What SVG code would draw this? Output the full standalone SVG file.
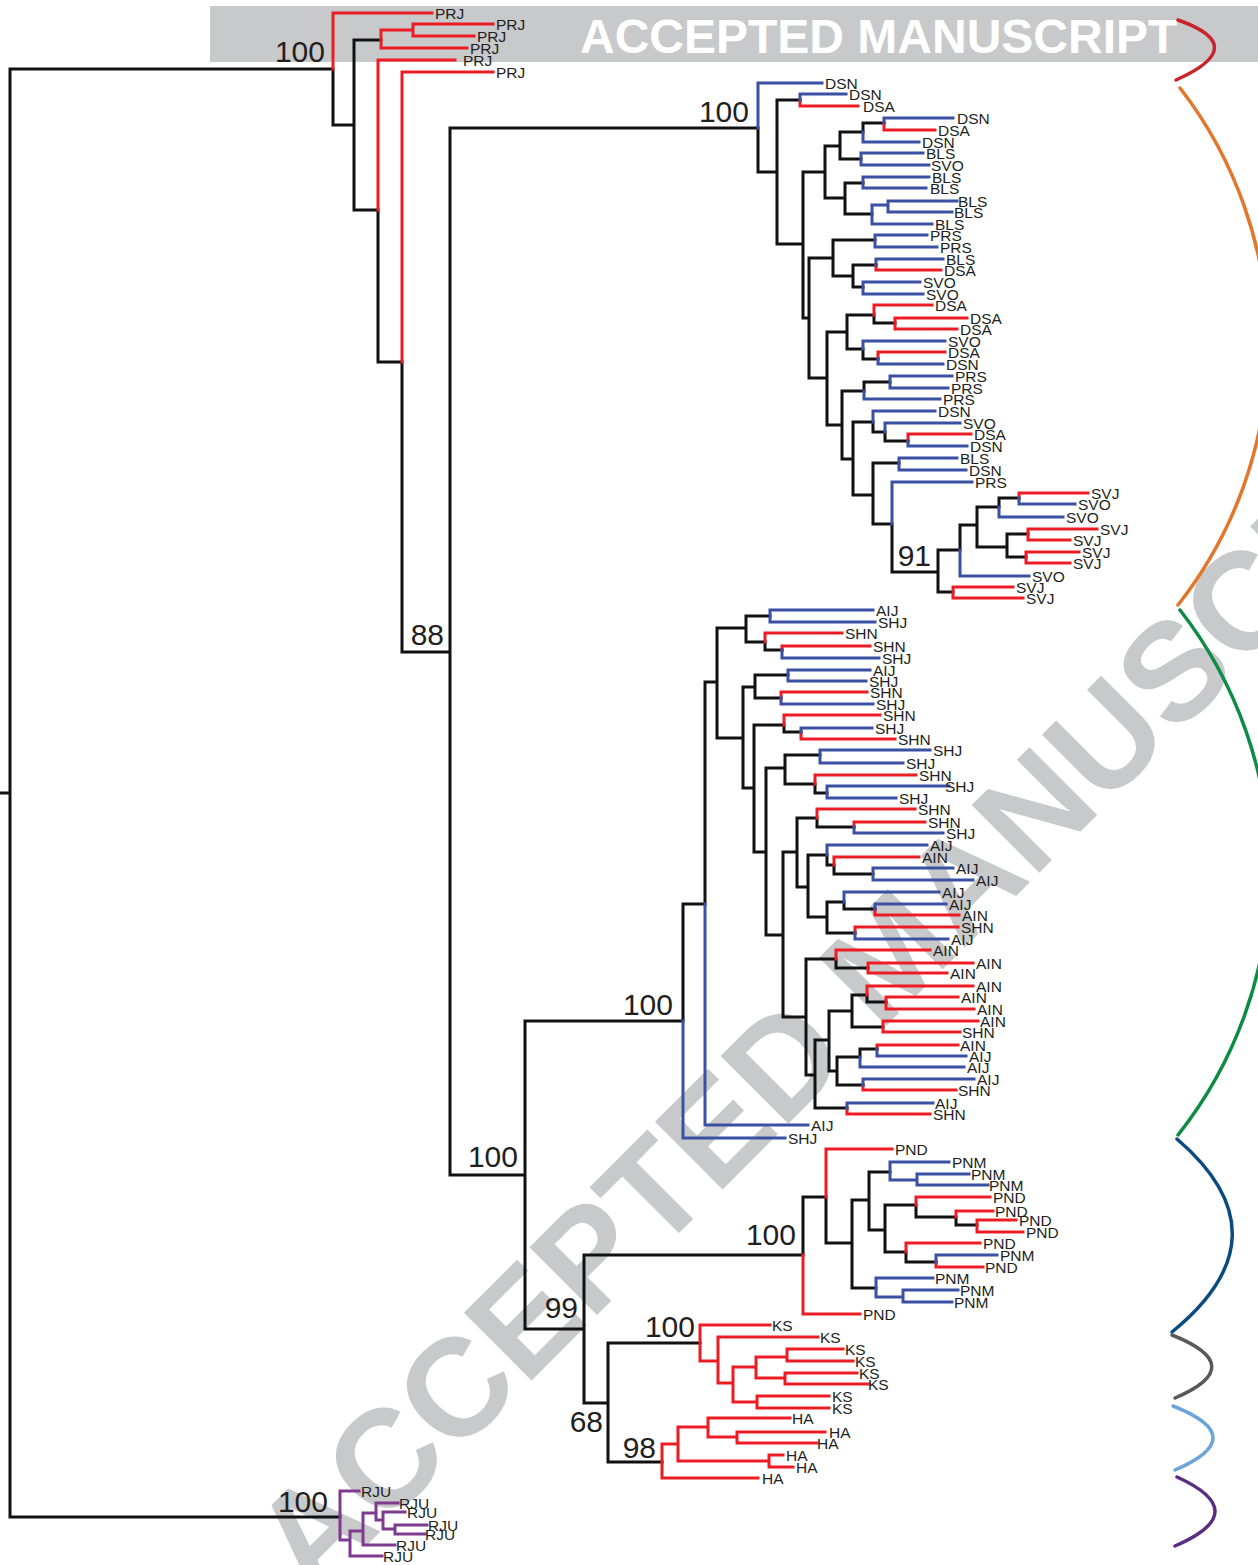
<svg xmlns="http://www.w3.org/2000/svg" width="1258" height="1565" viewBox="0 0 1258 1565">
<style>
.br{fill:none;stroke-width:3;stroke-linecap:square;stroke-linejoin:miter}
.k{stroke:#111}
.r{stroke:#ED1C24}
.b{stroke:#3A51A3}
.p{stroke:#7E3A8E}
.lf{font-family:"Liberation Sans",Arial,sans-serif;font-size:15.5px;fill:#231F20}
.sp{font-family:"Liberation Sans",Arial,sans-serif;font-size:30px;fill:#231F20;text-anchor:end}
.arc{fill:none;stroke-width:3.5;stroke-linecap:round}
.wm{font-family:"Liberation Sans",Arial,sans-serif;font-weight:bold;fill:#C8C9CB}
</style>
<rect width="1258" height="1565" fill="#fff"/>
<g id="watermark">
<rect x="210" y="6" width="1048" height="56" fill="#C8C9CB"/>
<text class="wm" x="580" y="53" font-size="48" style="fill:#fff">ACCEPTED MANUSCRIPT</text>
<text class="wm" font-size="139" transform="translate(312,1600) rotate(-45)">ACCEPTED MANUSCRIPT</text>
</g>
<g id="connectors">
<path class="br k" d="M0 793H10M10 793V69H333M10 793V1517H340M333 69V125H354M354 125V40H381M354 125V210H378M378 210V362H402M402 362V652H450M450 652V128H758M450 652V1175H525M758 128V172H777M777 172V100H800M777 172V244H803M803 244V172H825M803 244V318H809M825 172V146H840M825 172V198H845M840 146V132H863M840 146V159H861M863 132V123H884M845 198V183H863M845 198V214H872M809 318V258H833M809 318V378H827M833 258V240H875M833 258V276H853M853 276V265H876M853 276V287H863M827 378V332H847M827 378V425H842M847 332V315H874M847 332V349H863M874 315V323H895M863 349V359H878M842 425V391H864M842 425V459H853M864 391V382H890M853 459V422H873M853 459V495H873M873 422V432H885M885 432V441H908M873 495V463H899M873 495V524H892M892 524V572H938M938 572V550H960M938 572V592H953M960 550V525H977M977 525V507H999M977 525V547H1007M999 507V498H1019M1007 547V534H1028M1007 547V557H1026M525 1175V1021H683M525 1175V1329H584M683 1021V904H705M705 904V682H717M717 682V628H746M717 682V738H743M746 628V616H770M746 628V642H765M765 642V650H782M743 738V687H755M743 738V788H754M755 687V675H788M755 687V698H781M754 788V725H784M754 788V852H766M784 725V732H801M766 852V768H785M766 852V935H783M785 768V755H820M785 768V784H815M815 784V793H827M783 935V852H797M783 935V1017H806M797 852V818H817M797 852V887H808M817 818V827H854M808 887V855H827M808 887V917H827M827 855V865H834M834 865V874H873M827 917V902H844M827 917V933H855M844 902V909H875M806 1017V959H836M806 1017V1075H815M836 959V968H868M815 1075V1040H829M815 1075V1108H847M829 1040V1011H852M829 1040V1071H837M852 1011V995H867M852 1011V1027H883M867 995V1002H886M837 1071V1057H860M837 1071V1085H863M860 1057V1049H877M584 1329V1255H803M584 1329V1403H608M803 1255V1197H826M826 1197V1243H852M852 1243V1200H869M852 1243V1288H876M869 1200V1172H890M869 1200V1230H885M885 1230V1205H916M885 1230V1252H906M916 1205V1217H956M956 1217V1225H977M906 1252V1262H936M608 1403V1343H700M608 1403V1462H662"/>
<path class="br r" d="M333 69V13H432M381 40V30H413M381 40V48H467M413 30V24H493M413 30V36H474M378 210V60H455M402 362V72H493M800 100V106H858M884 123V130H935M876 265V270H941M874 315V305H932M895 323V318H967M895 323V329H957M878 359V352H945M908 441V434H971M1019 498V493H1088M1028 534V529H1097M1028 534V540H1070M1026 557V552H1079M1026 557V563H1070M953 592V587H1013M953 592V598H1023M765 642V633H842M782 650V646H870M781 698V692H867M784 725V715H880M801 732V739H895M815 784V775H916M817 818V809H915M854 827V822H925M834 865V857H919M875 909V915H959M855 933V927H958M836 959V950H930M868 968V963H973M868 968V973H947M867 995V986H973M886 1002V997H958M886 1002V1009H974M883 1027V1021H978M883 1027V1032H960M877 1049V1045H958M863 1085V1090H956M847 1108V1114H930M803 1255V1314H860M826 1197V1149H892M916 1205V1197H990M956 1217V1211H993M977 1225V1220H1016M977 1225V1232H1023M906 1252V1243H980M936 1262V1267H983M700 1343V1325H770M700 1343V1361H718M718 1361V1337H818M718 1361V1383H733M733 1383V1367H756M733 1383V1402H757M756 1367V1357H787M756 1367V1378H785M787 1357V1349H843M787 1357V1361H853M785 1378V1373H857M785 1378V1384H869M757 1402V1396H829M757 1402V1408H829M662 1462V1444H678M662 1462V1478H758M678 1444V1427H708M678 1444V1461H769M708 1427V1418H790M708 1427V1437H737M737 1437V1432H825M737 1437V1443H817M769 1461V1455H783M769 1461V1467H793"/>
<path class="br b" d="M758 128V83H822M800 100V94H846M863 132V142H919M884 123V118H953M861 159V153H923M861 159V165H929M863 183V177H929M863 183V188H926M872 214V205H888M872 214V224H932M888 205V201H957M888 205V212H952M875 240V235H927M875 240V247H937M876 265V259H943M863 287V282H920M863 287V294H923M863 349V341H945M878 359V364H943M864 391V399H940M890 382V376H952M890 382V388H948M873 422V411H935M885 432V423H960M908 441V446H967M899 463V458H957M899 463V470H966M892 524V482H972M960 550V576H1029M999 507V517H1063M1019 498V504H1075M683 1021V1138H785M705 904V1125H808M770 616V610H873M770 616V622H875M782 650V658H879M788 675V670H870M788 675V681H866M781 698V704H873M801 732V728H872M820 755V750H930M820 755V763H903M827 793V786H949M827 793V798H896M854 827V833H943M827 855V845H927M873 874V868H953M873 874V880H973M844 902V892H939M875 909V904H946M855 933V939H948M860 1057V1067H964M877 1049V1056H966M863 1085V1079H974M847 1108V1103H933M890 1172V1162H949M890 1172V1180H917M917 1180V1174H969M917 1180V1185H988M936 1262V1255H997M876 1288V1278H933M876 1288V1297H903M903 1297V1290H958M903 1297V1302H952"/>
<path class="br p" d="M340 1517V1491H359M340 1517V1540H350M350 1540V1531H363M350 1540V1556H382M363 1531V1513H376M363 1531V1545H395M376 1513V1503H398M376 1513V1520H383M383 1520V1512H405M383 1520V1529H395M395 1529V1525H427M395 1529V1534H425"/>
</g>
<g id="brackets">
<path class="arc" stroke="#C8242B" d="M1178 20Q1252 46 1176 80"/>
<path class="arc" stroke="#E2762B" d="M1180 88A420 420 0 0 1 1178 605"/>
<path class="arc" stroke="#0E8C45" d="M1180 610A425 425 0 0 1 1178 1135"/>
<path class="arc" stroke="#0B4C80" d="M1177 1139Q1290 1236 1172 1332"/>
<path class="arc" stroke="#58595B" d="M1172 1335Q1250 1366 1175 1398"/>
<path class="arc" stroke="#6BA5DB" d="M1173 1406Q1252 1437 1175 1470"/>
<path class="arc" stroke="#5A2D82" d="M1177 1477Q1254 1512 1175 1546"/>
</g>
<g id="support">
<text class="sp" x="325" y="62">100</text>
<text class="sp" x="749" y="122">100</text>
<text class="sp" x="444" y="645">88</text>
<text class="sp" x="931" y="566">91</text>
<text class="sp" x="673" y="1015">100</text>
<text class="sp" x="518" y="1167">100</text>
<text class="sp" x="796" y="1245">100</text>
<text class="sp" x="578" y="1318">99</text>
<text class="sp" x="695" y="1337">100</text>
<text class="sp" x="603" y="1432">68</text>
<text class="sp" x="656" y="1458">98</text>
<text class="sp" x="328" y="1512">100</text>
</g>
<g id="leaves-PRJ" class="lf">
<text x="435" y="18.5">PRJ</text><text x="496" y="29.5">PRJ</text><text x="477" y="41.5">PRJ</text><text x="470" y="53.5">PRJ</text><text x="463" y="65.5">PRJ</text><text x="496" y="77.5">PRJ</text>
</g>
<g id="leaves-D" class="lf">
<text x="825" y="88.5">DSN</text><text x="849" y="99.5">DSN</text><text x="863" y="111.5">DSA</text><text x="957" y="123.5">DSN</text><text x="938" y="135.5">DSA</text><text x="922" y="147.5">DSN</text><text x="926" y="158.5">BLS</text><text x="931" y="170.5">SVO</text><text x="932" y="182.5">BLS</text><text x="930" y="193.5">BLS</text><text x="958" y="206.5">BLS</text><text x="954" y="217.5">BLS</text><text x="935" y="229.5">BLS</text><text x="930" y="240.5">PRS</text><text x="940" y="252.5">PRS</text><text x="946" y="264.5">BLS</text><text x="944" y="275.5">DSA</text><text x="923" y="287.5">SVO</text><text x="926" y="299.5">SVO</text><text x="935" y="310.5">DSA</text><text x="970" y="323.5">DSA</text><text x="960" y="334.5">DSA</text><text x="948" y="346.5">SVO</text><text x="948" y="357.5">DSA</text><text x="946" y="369.5">DSN</text><text x="955" y="381.5">PRS</text><text x="951" y="393.5">PRS</text><text x="943" y="404.5">PRS</text><text x="938" y="416.5">DSN</text><text x="963" y="428.5">SVO</text><text x="974" y="439.5">DSA</text><text x="970" y="451.5">DSN</text><text x="960" y="463.5">BLS</text><text x="969" y="475.5">DSN</text><text x="975" y="487.5">PRS</text><text x="1091" y="498.5">SVJ</text><text x="1078" y="509.5">SVO</text><text x="1066" y="522.5">SVO</text><text x="1100" y="534.5">SVJ</text><text x="1073" y="545.5">SVJ</text><text x="1082" y="557.5">SVJ</text><text x="1073" y="568.5">SVJ</text><text x="1032" y="581.5">SVO</text><text x="1016" y="592.5">SVJ</text><text x="1026" y="603.5">SVJ</text>
</g>
<g id="leaves-S" class="lf">
<text x="876" y="615.5">AIJ</text><text x="878" y="627.5">SHJ</text><text x="845" y="638.5">SHN</text><text x="873" y="651.5">SHN</text><text x="882" y="663.5">SHJ</text><text x="873" y="675.5">AIJ</text><text x="869" y="686.5">SHJ</text><text x="870" y="697.5">SHN</text><text x="876" y="709.5">SHJ</text><text x="883" y="720.5">SHN</text><text x="875" y="733.5">SHJ</text><text x="898" y="744.5">SHN</text><text x="933" y="755.5">SHJ</text><text x="906" y="768.5">SHJ</text><text x="919" y="780.5">SHN</text><text x="945" y="791.5">SHJ</text><text x="899" y="803.5">SHJ</text><text x="918" y="814.5">SHN</text><text x="928" y="827.5">SHN</text><text x="946" y="838.5">SHJ</text><text x="930" y="850.5">AIJ</text><text x="922" y="862.5">AIN</text><text x="956" y="873.5">AIJ</text><text x="976" y="885.5">AIJ</text><text x="942" y="897.5">AIJ</text><text x="949" y="909.5">AIJ</text><text x="962" y="920.5">AIN</text><text x="961" y="932.5">SHN</text><text x="951" y="944.5">AIJ</text><text x="933" y="955.5">AIN</text><text x="976" y="968.5">AIN</text><text x="950" y="978.5">AIN</text><text x="976" y="991.5">AIN</text><text x="961" y="1002.5">AIN</text><text x="977" y="1014.5">AIN</text><text x="980" y="1026.5">AIN</text><text x="962" y="1037.5">SHN</text><text x="960" y="1050.5">AIN</text><text x="969" y="1061.5">AIJ</text><text x="967" y="1072.5">AIJ</text><text x="977" y="1084.5">AIJ</text><text x="958" y="1095.5">SHN</text><text x="935" y="1108.5">AIJ</text><text x="933" y="1119.5">SHN</text><text x="811" y="1130.5">AIJ</text><text x="788" y="1143.5">SHJ</text>
</g>
<g id="leaves-P" class="lf">
<text x="895" y="1154.5">PND</text><text x="952" y="1167.5">PNM</text><text x="971" y="1179.5">PNM</text><text x="989" y="1190.5">PNM</text><text x="993" y="1202.5">PND</text><text x="995" y="1216.5">PND</text><text x="1019" y="1225.5">PND</text><text x="1026" y="1237.5">PND</text><text x="983" y="1248.5">PND</text><text x="1000" y="1260.5">PNM</text><text x="985" y="1272.5">PND</text><text x="935" y="1283.5">PNM</text><text x="960" y="1295.5">PNM</text><text x="954" y="1307.5">PNM</text><text x="863" y="1319.5">PND</text>
</g>
<g id="leaves-K" class="lf">
<text x="772" y="1330.5">KS</text><text x="820" y="1342.5">KS</text><text x="845" y="1354.5">KS</text><text x="855" y="1366.5">KS</text><text x="859" y="1378.5">KS</text><text x="868" y="1389.5">KS</text><text x="832" y="1401.5">KS</text><text x="832" y="1413.5">KS</text><text x="792" y="1423.5">HA</text><text x="829" y="1437.5">HA</text><text x="817" y="1448.5">HA</text><text x="786" y="1460.5">HA</text><text x="796" y="1472.5">HA</text><text x="762" y="1483.5">HA</text>
</g>
<g id="leaves-R" class="lf">
<text x="361" y="1496.5">RJU</text><text x="399" y="1508.5">RJU</text><text x="407" y="1517.5">RJU</text><text x="428" y="1530.5">RJU</text><text x="425" y="1539.5">RJU</text><text x="396" y="1550.5">RJU</text><text x="383" y="1561.5">RJU</text>
</g>
</svg>
